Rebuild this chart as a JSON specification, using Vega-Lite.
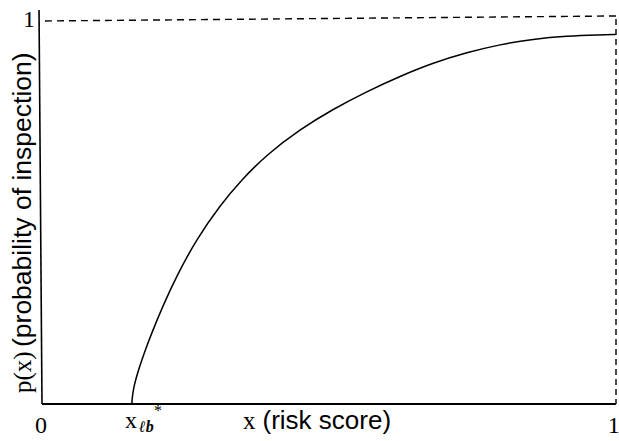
{
  "$schema": "https://vega.github.io/schema/vega-lite/v6.json",
  "width": 572,
  "height": 394,
  "autosize": {"type": "none"},
  "padding": {"left": 42, "top": 10, "right": 5, "bottom": 37},
  "background": "white",
  "config": {"view": {"stroke": null}},
  "layer": [
    {
      "data": {"values": [{}]},
      "mark": {"type": "rule", "color": "black", "strokeWidth": 1.6},
      "encoding": {
        "x": {"datum": -0.0052, "type": "quantitative", "scale": {"domain": [0, 1], "nice": false, "zero": false}, "axis": null},
        "y": {"datum": 1.03, "type": "quantitative", "scale": {"domain": [0, 1.03], "nice": false, "zero": false}, "axis": null},
        "x2": {"datum": 0},
        "y2": {"datum": 0}
      }
    },
    {
      "data": {"values": [{}]},
      "mark": {"type": "rule", "color": "black", "strokeWidth": 2.2},
      "encoding": {
        "x": {"datum": 0, "type": "quantitative", "scale": {"domain": [0, 1], "nice": false, "zero": false}, "axis": null},
        "y": {"datum": 0, "type": "quantitative", "scale": {"domain": [0, 1.03], "nice": false, "zero": false}, "axis": null},
        "x2": {"datum": 1.0035},
        "y2": {"datum": 0}
      }
    },
    {
      "data": {"values": [{}]},
      "mark": {"type": "rule", "color": "black", "strokeWidth": 1.4, "strokeDash": [7, 5]},
      "encoding": {
        "x": {"datum": 0.0052, "type": "quantitative", "scale": {"domain": [0, 1], "nice": false, "zero": false}, "axis": null},
        "y": {"datum": 1.0013, "type": "quantitative", "scale": {"domain": [0, 1.03], "nice": false, "zero": false}, "axis": null},
        "x2": {"datum": 1.0035},
        "y2": {"datum": 1.0144}
      }
    },
    {
      "data": {"values": [{}]},
      "mark": {"type": "rule", "color": "black", "strokeWidth": 1.4, "strokeDash": [6, 4]},
      "encoding": {
        "x": {"datum": 1.0035, "type": "quantitative", "scale": {"domain": [0, 1], "nice": false, "zero": false}, "axis": null},
        "y": {"datum": 1.0065, "type": "quantitative", "scale": {"domain": [0, 1.03], "nice": false, "zero": false}, "axis": null},
        "x2": {"datum": 1.0035},
        "y2": {"datum": 0}
      }
    },
    {
      "data": {"values": [
        {"x": 0.157, "p": 0},
        {"x": 0.158, "p": 0.02},
        {"x": 0.160, "p": 0.04},
        {"x": 0.164, "p": 0.065},
        {"x": 0.170, "p": 0.095},
        {"x": 0.179, "p": 0.135},
        {"x": 0.192, "p": 0.186},
        {"x": 0.210, "p": 0.252},
        {"x": 0.236, "p": 0.337},
        {"x": 0.270, "p": 0.43},
        {"x": 0.310, "p": 0.517},
        {"x": 0.350, "p": 0.588},
        {"x": 0.393, "p": 0.652},
        {"x": 0.451, "p": 0.718},
        {"x": 0.509, "p": 0.771},
        {"x": 0.568, "p": 0.817},
        {"x": 0.626, "p": 0.857},
        {"x": 0.684, "p": 0.892},
        {"x": 0.743, "p": 0.919},
        {"x": 0.801, "p": 0.940},
        {"x": 0.858, "p": 0.954},
        {"x": 0.918, "p": 0.962},
        {"x": 0.976, "p": 0.965},
        {"x": 1.003, "p": 0.966}
      ]},
      "mark": {"type": "line", "color": "black", "strokeWidth": 1.5, "interpolate": "basis"},
      "encoding": {
        "x": {"field": "x", "type": "quantitative", "scale": {"domain": [0, 1], "nice": false, "zero": false}, "axis": null},
        "y": {"field": "p", "type": "quantitative", "scale": {"domain": [0, 1.03], "nice": false, "zero": false}, "axis": null}
      }
    },
    {
      "data": {"values": [{}]},
      "mark": {"type": "text", "text": "1", "font": "Liberation Serif", "fontSize": 24, "align": "right", "baseline": "alphabetic", "color": "black"},
      "encoding": {
        "x": {"datum": -0.0122, "type": "quantitative", "scale": {"domain": [0, 1], "nice": false, "zero": false}, "axis": null},
        "y": {"datum": 0.9856, "type": "quantitative", "scale": {"domain": [0, 1.03], "nice": false, "zero": false}, "axis": null}
      }
    },
    {
      "data": {"values": [{}]},
      "mark": {"type": "text", "text": "0", "font": "Liberation Serif", "fontSize": 24, "align": "center", "baseline": "alphabetic", "color": "black"},
      "encoding": {
        "x": {"datum": -0.0017, "type": "quantitative", "scale": {"domain": [0, 1], "nice": false, "zero": false}, "axis": null},
        "y": {"datum": -0.0758, "type": "quantitative", "scale": {"domain": [0, 1.03], "nice": false, "zero": false}, "axis": null}
      }
    },
    {
      "data": {"values": [{}]},
      "mark": {"type": "text", "text": "1", "font": "Liberation Serif", "fontSize": 24, "align": "center", "baseline": "alphabetic", "color": "black"},
      "encoding": {
        "x": {"datum": 0.9995, "type": "quantitative", "scale": {"domain": [0, 1], "nice": false, "zero": false}, "axis": null},
        "y": {"datum": -0.0758, "type": "quantitative", "scale": {"domain": [0, 1.03], "nice": false, "zero": false}, "axis": null}
      }
    },
    {
      "data": {"values": [{}]},
      "mark": {"type": "text", "text": "x", "font": "Liberation Serif", "fontSize": 24, "align": "center", "baseline": "alphabetic", "color": "black"},
      "encoding": {
        "x": {"datum": 0.1556, "type": "quantitative", "scale": {"domain": [0, 1], "nice": false, "zero": false}, "axis": null},
        "y": {"datum": -0.0627, "type": "quantitative", "scale": {"domain": [0, 1.03], "nice": false, "zero": false}, "axis": null}
      }
    },
    {
      "data": {"values": [{}]},
      "mark": {"type": "text", "text": "ℓb", "font": "Liberation Serif", "fontSize": 16, "fontStyle": "italic", "fontWeight": "bold", "align": "left", "baseline": "alphabetic", "color": "black"},
      "encoding": {
        "x": {"datum": 0.1696, "type": "quantitative", "scale": {"domain": [0, 1], "nice": false, "zero": false}, "axis": null},
        "y": {"datum": -0.0732, "type": "quantitative", "scale": {"domain": [0, 1.03], "nice": false, "zero": false}, "axis": null}
      }
    },
    {
      "data": {"values": [{}]},
      "mark": {"type": "text", "text": "*", "font": "Liberation Serif", "fontSize": 16, "align": "center", "baseline": "alphabetic", "color": "black"},
      "encoding": {
        "x": {"datum": 0.2028, "type": "quantitative", "scale": {"domain": [0, 1], "nice": false, "zero": false}, "axis": null},
        "y": {"datum": -0.0314, "type": "quantitative", "scale": {"domain": [0, 1.03], "nice": false, "zero": false}, "axis": null}
      }
    },
    {
      "data": {"values": [{}]},
      "mark": {"type": "text", "text": "x", "font": "Liberation Serif", "fontSize": 25, "align": "left", "baseline": "alphabetic", "color": "black"},
      "encoding": {
        "x": {"datum": 0.3514, "type": "quantitative", "scale": {"domain": [0, 1], "nice": false, "zero": false}, "axis": null},
        "y": {"datum": -0.0654, "type": "quantitative", "scale": {"domain": [0, 1.03], "nice": false, "zero": false}, "axis": null}
      }
    },
    {
      "data": {"values": [{}]},
      "mark": {"type": "text", "text": "(risk score)", "font": "Liberation Sans", "fontSize": 26, "align": "left", "baseline": "alphabetic", "color": "black"},
      "encoding": {
        "x": {"datum": 0.3855, "type": "quantitative", "scale": {"domain": [0, 1], "nice": false, "zero": false}, "axis": null},
        "y": {"datum": -0.0654, "type": "quantitative", "scale": {"domain": [0, 1.03], "nice": false, "zero": false}, "axis": null}
      }
    },
    {
      "data": {"values": [{}]},
      "mark": {"type": "text", "text": "p(x)", "font": "Liberation Serif", "fontSize": 25, "angle": 270, "align": "left", "baseline": "alphabetic", "color": "black"},
      "encoding": {
        "x": {"datum": -0.0192, "type": "quantitative", "scale": {"domain": [0, 1], "nice": false, "zero": false}, "axis": null},
        "y": {"datum": 0.0288, "type": "quantitative", "scale": {"domain": [0, 1.03], "nice": false, "zero": false}, "axis": null}
      }
    },
    {
      "data": {"values": [{}]},
      "mark": {"type": "text", "text": "(probability of inspection)", "font": "Liberation Sans", "fontSize": 26.5, "angle": 270, "align": "left", "baseline": "alphabetic", "color": "black"},
      "encoding": {
        "x": {"datum": -0.0192, "type": "quantitative", "scale": {"domain": [0, 1], "nice": false, "zero": false}, "axis": null},
        "y": {"datum": 0.149, "type": "quantitative", "scale": {"domain": [0, 1.03], "nice": false, "zero": false}, "axis": null}
      }
    }
  ]
}
